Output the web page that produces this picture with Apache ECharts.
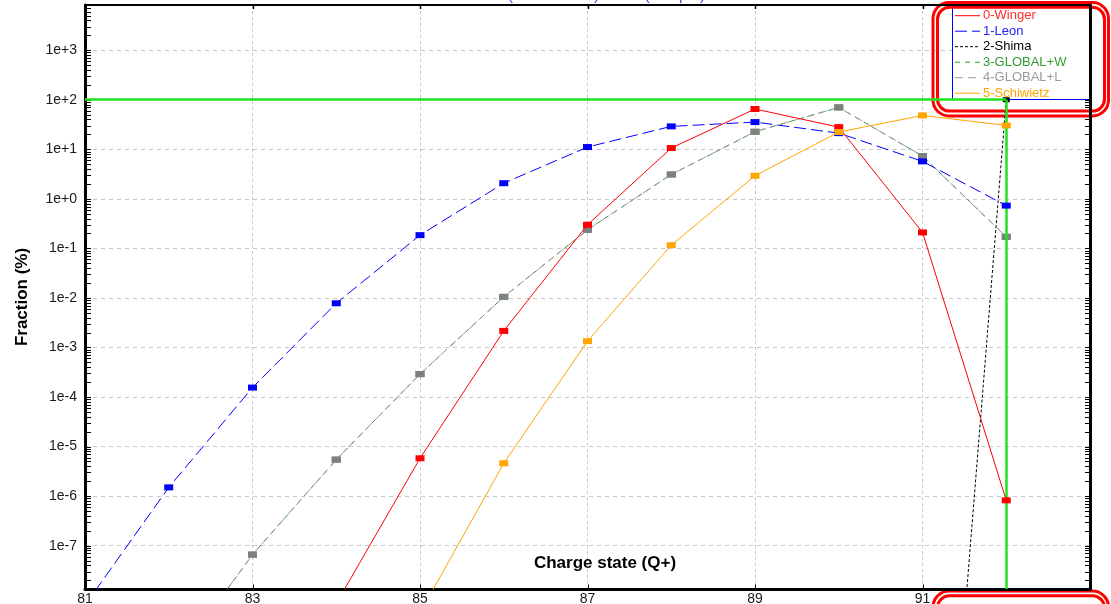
<!DOCTYPE html>
<html>
<head>
<meta charset="utf-8">
<script src="https://cdn.jsdelivr.net/npm/echarts@6/dist/echarts.min.js"></script>
<style>
  html, body { margin: 0; padding: 0; background: #ffffff; }
  #chart { width: 1111px; height: 604px; }
</style>
</head>
<body>
<div id="chart"></div>
<script>
// Charge states (Q+) and the fraction (%) predicted by each model
const charges   = [81, 82, 83, 84, 85, 86, 87, 88, 89, 90, 91, 92];
const winger    = [null, null, null, 6.8e-9, 5.8e-6, 2.16e-3, 0.30, 10.6, 65, 28, 0.21, 8.2e-7];
const leon      = [6.3e-9, 1.5e-6, 1.55e-4, 7.8e-3, 0.185, 2.07, 11.1, 29, 35.4, 21.2, 5.7, 0.73];
const shima     = [null, null, null, null, null, null, null, null, null, null, 1e-19, 100];
const globalW   = [null, 3.2e-10, 6.6e-8, 5.45e-6, 2.9e-4, 0.0105, 0.237, 3.1, 22.6, 70, 7.3, 0.171];
const globalL   = [null, 3.2e-10, 6.6e-8, 5.45e-6, 2.9e-4, 0.0105, 0.237, 3.1, 22.6, 70, 7.3, 0.171];
const schiwietz = [null, null, null, null, 4.4e-9, 4.6e-6, 1.34e-3, 0.116, 2.92, 22.3, 48.2, 30.3];

const seriesNames = ['0-Winger', '1-Leon', '2-Shima', '3-GLOBAL+W', '4-GLOBAL+L', '5-Schiwietz'];

// Axis labels
const xTickLabels = [81, 83, 85, 87, 89, 91];
const yTickLabels = ['1e-7', '1e-6', '1e-5', '1e-4', '1e-3', '1e-2', '1e-1', '1e+0', '1e+1', '1e+2', '1e+3'];

// Cursor position (crosshair)
const cursorQ = 92;
const cursorF = 100;

const titleText = 'U (1000 MeV/u) \u2192 Be (500 \u00b5m)';

// ---------------------------------------------------------------
const X_MIN = 81, X_MAX = 93;
const Y_MIN = 1.334e-8, Y_MAX = 8.17e3;
const FONT = '"Liberation Sans", Arial, sans-serif';

const decades = yTickLabels.map(Number);
// log-spaced minor ticks (1..9 x 10^n) inside the axis range
const logTicks = [];
for (let e = -8; e <= 3; e++) {
  for (let m = 1; m <= 9; m++) {
    const v = m * Math.pow(10, e);
    if (v > Y_MIN && v < Y_MAX) logTicks.push(v);
  }
}

function pairs(arr) {
  const out = [];
  charges.forEach((q, i) => { if (arr[i] !== null) out.push([q, arr[i]]); });
  return out;
}

const styles = [
  { color: '#ff0000', text: '#ff2a2a', dash: 'solid',  marker: '#ff0000', data: winger,    z: 6 },
  { color: '#0000ff', text: '#2222ff', dash: [12, 5],  marker: '#0000ff', data: leon,      z: 5 },
  { color: '#000000', text: '#000000', dash: [3, 2],   marker: '#000000', data: shima,     z: 1 },
  { color: '#339933', text: '#339933', dash: [5, 5],   marker: '#339933', data: globalW,   z: 3 },
  { color: '#9a9a9a', text: '#9a9a9a', dash: [8, 5],   marker: '#808080', data: globalL,   z: 4 },
  { color: '#ffa500', text: '#ffa500', dash: 'solid',  marker: '#ffa500', data: schiwietz, z: 7 }
];

const series = styles.map((s, i) => ({
  name: seriesNames[i],
  type: 'line',
  data: pairs(s.data),
  z: s.z,
  symbol: 'rect',
  symbolSize: i === 2 ? [7, 5] : [9, 6],
  showAllSymbol: true,
  clip: true,
  silent: true,
  lineStyle: { color: s.color, width: 1, type: s.dash },
  itemStyle: { color: s.marker },
  emphasis: { disabled: true }
}));

// Green crosshair at the cursor position
series.push({
  name: 'cursor',
  type: 'line',
  data: [],
  z: 2,
  silent: true,
  markLine: {
    silent: true,
    symbol: 'none',
    label: { show: false },
    animation: false,
    lineStyle: { color: '#1ee41e', width: 2.5, type: 'solid' },
    emphasis: { disabled: true },
    data: [
      [{ coord: [X_MIN, cursorF] }, { coord: [cursorQ, cursorF] }],
      [{ coord: [cursorQ, cursorF] }, { coord: [cursorQ, Y_MIN] }]
    ]
  }
});

function expLabel(v) {
  const e = Math.round(Math.log10(v));
  return '1e' + (e >= 0 ? '+' : '') + e;
}

// Legend box drawn as graphic elements
const legendTop = 5, legendLeft = 952.5, legendRight = 1089, legendBottom = 99.5;
const rowH = 15.5, firstRow = 15.7;
const legendChildren = [
  { type: 'rect', shape: { x: legendLeft, y: legendTop, width: legendRight - legendLeft, height: legendBottom - legendTop },
    style: { fill: '#ffffff', stroke: null } },
  { type: 'polyline', shape: { points: [[legendRight, legendTop], [legendLeft, legendTop], [legendLeft, legendBottom], [legendRight, legendBottom]] },
    style: { fill: null, stroke: '#0000ff', lineWidth: 1 } }
];
styles.forEach((s, i) => {
  const y = firstRow + i * rowH;
  legendChildren.push({
    type: 'line',
    shape: { x1: 955, y1: y, x2: 980, y2: y },
    style: { stroke: s.color, lineWidth: 1, lineDash: s.dash === 'solid' ? null : s.dash }
  });
  legendChildren.push({
    type: 'text',
    style: {
      x: 983, y: y, text: seriesNames[i], fill: s.text,
      font: '13px ' + FONT,
      verticalAlign: 'middle', align: 'left'
    }
  });
});

function roundedPair(top) {
  return [
    { type: 'rect', shape: { x: 933, y: top, width: 175.5, height: 113.5, r: 16 },
      style: { fill: null, stroke: '#ff0000', lineWidth: 3 } },
    { type: 'rect', shape: { x: 937.5, y: top + 4.8, width: 167, height: 103.8, r: 12 },
      style: { fill: null, stroke: '#ff0000', lineWidth: 3 } }
  ];
}

const chart = echarts.init(document.getElementById('chart'), null, { renderer: 'canvas' });

chart.setOption({
  animation: false,
  backgroundColor: '#ffffff',
  title: {
    text: titleText,
    left: 493,
    top: -11.5,
    padding: 0,
    textStyle: { color: '#4040ff', fontSize: 15, fontWeight: 'normal', fontFamily: FONT }
  },
  grid: { left: 85, right: 21, top: 5, bottom: 15, containLabel: false, outerBoundsMode: 'none' },
  xAxis: [
    {
      type: 'value', position: 'bottom', min: X_MIN, max: X_MAX,
      axisLine: { show: true, onZero: false, lineStyle: { color: '#000000', width: 3 } },
      axisTick: { show: false, customValues: xTickLabels },
      axisLabel: {
        show: true, customValues: xTickLabels, margin: 3,
        color: '#1a1a1a', fontSize: 14, fontFamily: FONT
      },
      splitLine: { show: true, lineStyle: { color: '#c8c8c8', type: [3, 3], width: 1 } }
    },
    {
      type: 'value', position: 'top', min: X_MIN, max: X_MAX,
      axisLine: { show: true, onZero: false, lineStyle: { color: '#000000', width: 2 } },
      axisTick: { show: false },
      axisLabel: { show: false },
      splitLine: { show: false }
    }
  ],
  yAxis: [
    {
      type: 'log', position: 'left', min: Y_MIN, max: Y_MAX, logBase: 10,
      name: 'Fraction (%)', nameLocation: 'middle', nameGap: 54,
      nameTextStyle: { color: '#000000', fontSize: 17, fontWeight: 'bold', fontFamily: FONT },
      axisLine: { show: true, onZero: false, lineStyle: { color: '#000000', width: 3 } },
      axisTick: { show: false, customValues: decades },
      axisLabel: {
        show: true, customValues: decades, margin: 8, formatter: expLabel,
        color: '#1a1a1a', fontSize: 14, fontFamily: FONT
      },
      splitLine: { show: true, lineStyle: { color: '#c8c8c8', type: [4, 4], width: 1 } }
    },
    {
      type: 'log', position: 'right', min: Y_MIN, max: Y_MAX, logBase: 10,
      axisLine: { show: true, onZero: false, lineStyle: { color: '#000000', width: 3 } },
      axisTick: { show: false },
      axisLabel: { show: false },
      splitLine: { show: false }
    }
  ],
  series: series
});

// Inward tick marks on the frame, placed through the axis scales
const tickLines = [];
const toPx = (p) => chart.convertToPixel({ xAxisIndex: 0, yAxisIndex: 0 }, p);
logTicks.forEach(v => {
  const l = toPx([X_MIN, v]);
  const r = toPx([X_MAX, v]);
  if (!l || !r || !isFinite(l[1])) return;
  const yl = Math.round(l[1]) + 0.5;
  tickLines.push({ type: 'line', shape: { x1: l[0], y1: yl, x2: l[0] + 6, y2: yl }, style: { stroke: '#000000', lineWidth: 1 } });
  tickLines.push({ type: 'line', shape: { x1: r[0] - 5, y1: yl, x2: r[0], y2: yl }, style: { stroke: '#000000', lineWidth: 1 } });
});
xTickLabels.forEach(q => {
  const b = toPx([q, Y_MIN]);
  const t = toPx([q, Y_MAX]);
  if (!b || !t || !isFinite(b[0])) return;
  const x = Math.round(b[0]) + 0.5;
  tickLines.push({ type: 'line', shape: { x1: x, y1: b[1], x2: x, y2: b[1] - 4.5 }, style: { stroke: '#000000', lineWidth: 1 } });
  tickLines.push({ type: 'line', shape: { x1: x, y1: t[1], x2: x, y2: t[1] + 4 }, style: { stroke: '#000000', lineWidth: 1.5 } });
});

chart.setOption({
  graphic: [
    {
      type: 'text', silent: true, z: 50,
      style: {
        x: 605, y: 563, text: 'Charge state (Q+)', fill: '#000000',
        font: 'bold 17px ' + FONT,
        align: 'center', verticalAlign: 'middle'
      }
    },
    { type: 'group', silent: true, z: 40, children: tickLines },
    { type: 'group', silent: true, z: 60, children: legendChildren },
    { type: 'group', silent: true, z: 70, children: roundedPair(2.5).concat(roundedPair(591)) }
  ]
});
</script>
</body>
</html>
